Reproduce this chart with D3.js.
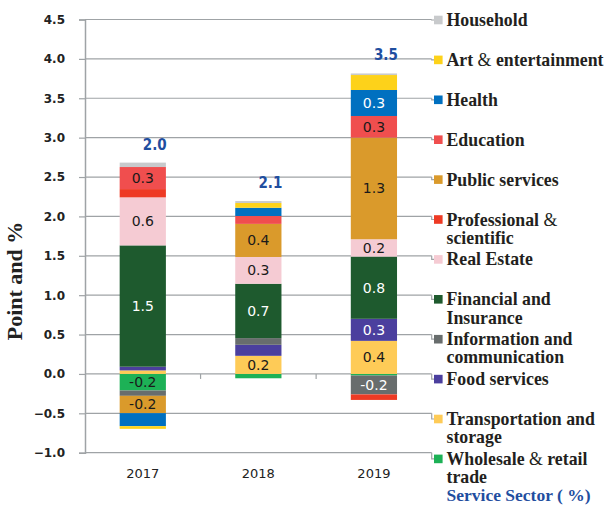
<!DOCTYPE html>
<html><head><meta charset="utf-8">
<script src="https://cdn.jsdelivr.net/npm/d3@7"></script>
<style>html,body{margin:0;padding:0;background:#fff;}svg{display:block;}</style>
</head><body>
<svg id="c" width="608" height="505"></svg>
<script>
const years = ["2017", "2018", "2019"];
// stacking order, bottom to top
const seriesNames = ["Wholesale & retail\ntrade", "Transportation and\nstorage", "Food services",
  "Information and\ncommunication", "Financial and\nInsurance", "Real Estate",
  "Professional &\nscientific", "Public services", "Education", "Health",
  "Art & entertainment", "Household"];
const wholesale    = [-0.21, -0.055, -0.02];
const transport    = [0.045, 0.23, 0.42];
const food         = [0.047, 0.14, 0.28];
const info         = [-0.068, 0.085, -0.24];
const financial    = [1.54, 0.69, 0.79];
const realEstate   = [0.61, 0.34, 0.22];
const professional = [0.105, 0, -0.07];
const publicServ   = [-0.22, 0.42, 1.29];
const education    = [0.28, 0.10, 0.275];
const health       = [-0.165, 0.105, 0.33];
const art          = [-0.034, 0.06, 0.19];
const household    = [0.056, 0.025, 0.02];
const seriesValues = [wholesale, transport, food, info, financial, realEstate, professional, publicServ, education, health, art, household];
const colors = ["#1DB156", "#FECB57", "#4B3F9E", "#686D6D", "#1E5A2E", "#F5CBD3", "#EE3A24", "#DA9A2B", "#F04E4E", "#0070C0", "#FDD21A", "#C8CACC"];
const whiteText = [false, false, true, true, true, false, false, false, false, true, false, false];
const yTicks = [-1.0, -0.5, 0, 0.5, 1.0, 1.5, 2.0, 2.5, 3.0, 3.5, 4.0, 4.5];
const legendTitle = "Service Sector ( %)";
const yTitle = "Point and %";

(function () {
const svg = d3.select("#c");
const pLeft = 85, pRight = 431.7, pTop = 19.5, pBottom = 452.7;
const x = d3.scaleBand().domain(years).range([pLeft, pRight]);
const y = d3.scaleLinear().domain([-1, 4.5]).range([pBottom, pTop]);
const barW = x.bandwidth() * 0.4;
const gridColor = "#9fa3a6";

const table = years.map((yr, i) => {
  const o = {year: yr};
  seriesNames.forEach((n, k) => o[n] = seriesValues[k][i]);
  return o;
});
const stacked = d3.stack().keys(seriesNames).offset(d3.stackOffsetDiverging)(table);

// gridlines
svg.append("g").selectAll("line").data(yTicks).join("line")
  .attr("x1", pLeft).attr("x2", pRight)
  .attr("y1", d => y(d)).attr("y2", d => y(d))
  .attr("stroke", gridColor).attr("stroke-width", 1.2);

// y axis
const yAxis = d3.axisLeft(y).tickValues(yTicks).tickFormat(d3.format(".1f")).tickSize(6).tickPadding(14);
const ga = svg.append("g").attr("transform", `translate(${pLeft},0)`).call(yAxis);
ga.select(".domain").attr("stroke", gridColor).attr("stroke-width", 1.5);
ga.selectAll(".tick line").attr("stroke", gridColor).attr("stroke-width", 1.2);
ga.selectAll(".tick text").attr("font-family", "DejaVu Sans").attr("font-weight", "bold")
  .attr("font-size", 12).attr("fill", "#222");

// category ticks at zero line
svg.append("g").selectAll("line").data(years.slice(1)).join("line")
  .attr("x1", d => x(d)).attr("x2", d => x(d))
  .attr("y1", y(0)).attr("y2", y(0) + 5)
  .attr("stroke", gridColor).attr("stroke-width", 1.2);

// x labels
svg.append("g").selectAll("text").data(years).join("text")
  .attr("x", d => x(d) + x.bandwidth() / 2).attr("y", 478)
  .attr("text-anchor", "middle").attr("font-family", "DejaVu Sans")
  .attr("font-size", 13).attr("fill", "#222").text(d => d);

// bars
stacked.forEach((s, k) => {
  const g = svg.append("g");
  g.selectAll("rect").data(s).join("rect")
    .attr("x", d => x(d.data.year) + (x.bandwidth() - barW) / 2)
    .attr("width", barW)
    .attr("y", d => y(d[1]))
    .attr("height", d => Math.max(0, y(d[0]) - y(d[1])))
    .attr("fill", colors[k]);
  g.selectAll("text").data(s.filter(d => Math.abs(d.data[s.key]) >= 0.2)).join("text")
    .attr("x", d => x(d.data.year) + x.bandwidth() / 2)
    .attr("y", d => (y(d[0]) + y(d[1])) / 2 + 5)
    .attr("text-anchor", "middle").attr("font-family", "DejaVu Sans")
    .attr("font-size", 14).attr("fill", whiteText[k] ? "#fff" : "#1a1a1a")
    .text(d => d.data[s.key].toFixed(1));
});

// totals
const totals = years.map((yr, i) => ({
  year: yr,
  total: d3.sum(seriesValues, v => v[i]),
  stackTop: d3.max(stacked, s => s[i][1])
}));
svg.append("g").selectAll("text").data(totals).join("text")
  .attr("x", d => x(d.year) + x.bandwidth() / 2 + 12)
  .attr("y", d => y(d.stackTop) - 13)
  .attr("text-anchor", "middle")
  .attr("font-family", "DejaVu Sans Condensed, DejaVu Sans")
  .attr("font-stretch", "condensed")
  .attr("font-weight", "bold").attr("font-size", 15).attr("fill", "#1F4E9F")
  .text(d => d.total.toFixed(1));

// y title
svg.append("text")
  .attr("transform", "translate(22,281) rotate(-90)")
  .attr("text-anchor", "middle").attr("font-family", "Liberation Serif")
  .attr("font-weight", "bold").attr("font-size", 22).attr("fill", "#222")
  .text(yTitle);

// legend (top to bottom = reverse of stacking order)
const legendOrder = d3.range(seriesNames.length).reverse();
const lg = svg.append("g");
legendOrder.forEach((k, i) => {
  const ly = 20 + i * 39.9;
  const gy = y(yTicks[yTicks.length - 1 - i]);
  lg.append("path")
    .attr("d", `M${pRight},${gy} L${pRight},${ly} L434,${ly}`)
    .attr("fill", "none").attr("stroke", gridColor).attr("stroke-width", 1.2);
  lg.append("rect").attr("x", 434).attr("y", ly - 4.3).attr("width", 8.6).attr("height", 8.6)
    .attr("fill", colors[k]);
  const lines = seriesNames[k].split("\n");
  lines.forEach((ln, j) => {
    const t = lg.append("text").attr("x", 446.5).attr("y", ly + 6 + j * 18.2)
      .attr("font-family", "Liberation Serif").attr("font-weight", "bold")
      .attr("font-size", 17.8).attr("fill", "#231F20");
    const parts = ln.split("&");
    parts.forEach((p, m) => {
      t.append("tspan").text(p);
      if (m < parts.length - 1) t.append("tspan").attr("font-weight", "normal").text("&");
    });
  });
});
lg.append("text").attr("x", 446.5).attr("y", 501)
  .attr("font-family", "Liberation Serif").attr("font-weight", "bold")
  .attr("font-size", 17.5).attr("fill", "#1F4E9F").text(legendTitle);
})();
</script>
</body></html>
